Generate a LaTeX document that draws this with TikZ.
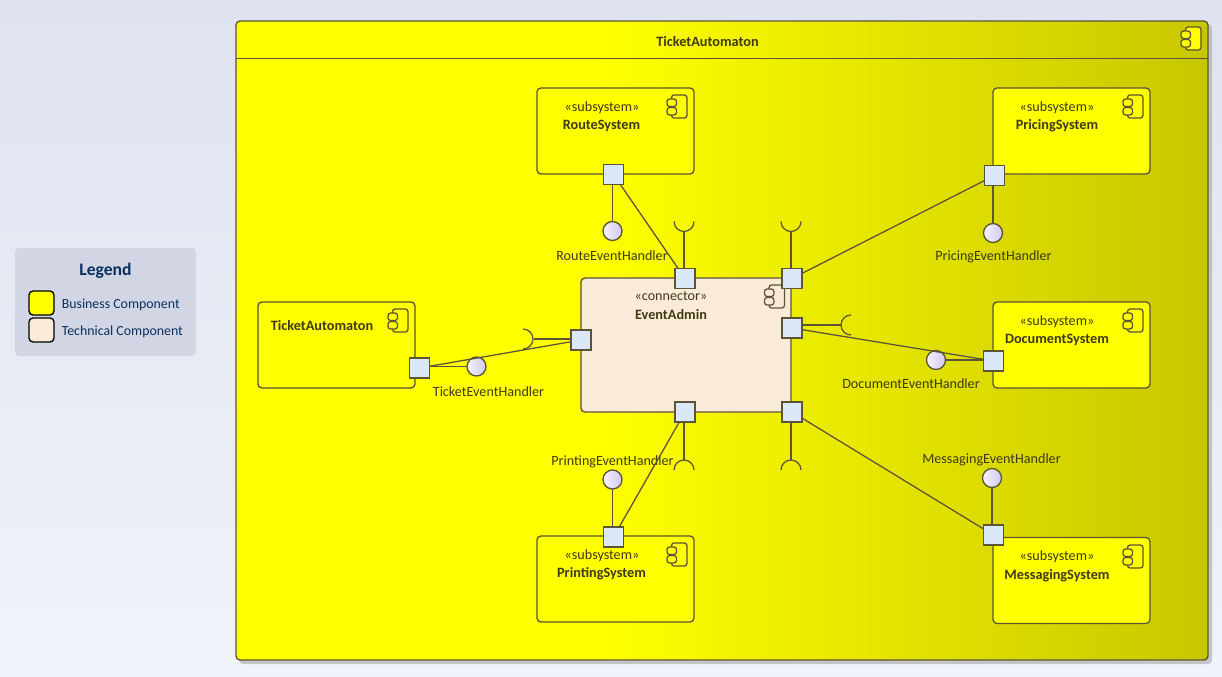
\documentclass[tikz,border=0pt]{standalone}
\usepackage{fontspec}
\setmainfont{Carlito}
\definecolor{ln}{HTML}{5C5436}
\definecolor{txt}{HTML}{3F3A14}
\definecolor{navy}{HTML}{0B2F5F}
\definecolor{portc}{HTML}{DAE8F8}
\definecolor{tech}{HTML}{FAEBD9}
\definecolor{yel}{HTML}{FFFF00}
\definecolor{legbg}{HTML}{D2D6E4}
\pgfdeclarehorizontalshading{framesh}{100bp}{rgb(0bp)=(1,1,0); rgb(43.75bp)=(1,1,0); rgb(75bp)=(0.78,0.78,0); rgb(100bp)=(0.78,0.78,0)}
\pgfdeclarehorizontalshading{ballsh}{100bp}{rgb(0bp)=(0.97,0.95,0.99); rgb(25bp)=(0.97,0.95,0.99); rgb(75bp)=(0.82,0.79,0.93); rgb(100bp)=(0.82,0.79,0.93)}
\pgfdeclareverticalshading{bgsh}{100bp}{rgb(0bp)=(0.945,0.953,0.98); rgb(25bp)=(0.945,0.953,0.98); rgb(75bp)=(0.87,0.89,0.935); rgb(100bp)=(0.87,0.89,0.935)}
\tikzset{
  x=0.75pt,y=-0.75pt,
  comp/.style={draw=ln,line width=1pt,rounded corners=3pt,fill=yel,minimum width=117.75pt,minimum height=64.5pt,inner sep=0pt,outer sep=0pt},
  techbox/.style={draw=ln,line width=1pt,rounded corners=3pt,fill=tech,minimum width=157.5pt,minimum height=100.5pt,inner sep=0pt,outer sep=0pt},
  port/.style={draw=ln,line width=1pt,fill=portc,minimum size=15pt,inner sep=0pt,outer sep=0pt},
  ball/.style={circle,draw=ln,line width=1pt,shading=ballsh,minimum size=14.25pt,inner sep=0pt,outer sep=0pt},
  conn/.style={draw=ln,line width=0.95pt},
  lab/.style={text=txt,font=\fontsize{10.6pt}{12pt}\selectfont,inner sep=0pt},
  nameb/.style={text=txt,font=\fontsize{10.7pt}{12pt}\selectfont\bfseries,inner sep=0pt},
  legt/.style={text=navy,font=\fontsize{10.4pt}{12pt}\selectfont,inner sep=0pt,anchor=west},
  swatch/.style={draw=black,line width=1pt,rounded corners=3pt,minimum width=18.75pt,minimum height=18pt,inner sep=0pt},
}
% icon: (x,y) = top right corner of the owning box, #3 = fill
\newcommand{\compicon}[3]{%
  \begin{scope}[shift={(#1,#2)},draw=ln,line width=0.95pt]
    \draw[fill=#3,rounded corners=2pt] (-22.5,7) rectangle (-7,30);
    \draw[fill=#3,rounded corners=2pt] (-27,11) rectangle (-17.5,18.5);
    \draw[fill=#3,rounded corners=2pt] (-27,19.5) rectangle (-17.5,27);
  \end{scope}}
\begin{document}
\begin{tikzpicture}
\useasboundingbox (0,0) rectangle (1222,676);
\shade[shading=bgsh] (0,0) rectangle (1222,676);

% legend
\fill[legbg,rounded corners=3pt] (15,248) rectangle (196,356);
\node[text=navy,font=\fontsize{13.2pt}{15pt}\selectfont\bfseries,inner sep=0pt] (legtitle) at (105.5,270.5) {Legend};
\node[swatch,fill=yel] (sw1) at (41.5,303) {};
\node[swatch,fill=tech] (sw2) at (41.5,330) {};
\node[legt] (lt1) at (61.5,304.5) {Business Component};
\node[legt] (lt2) at (61.5,331.5) {Technical Component};

% frame
\fill[black!30!white,opacity=.7,rounded corners=3pt] (239,24) rectangle (1212,664);
\shade[shading=framesh,rounded corners=3pt] (236,21) rectangle (1208,660);
\draw[ln,line width=1pt,rounded corners=3pt] (236,21) rectangle (1208,660);
\draw[ln,line width=1pt] (236,58.5) -- (1208,58.5);
\node[nameb] (ftitle) at (707.5,42) {TicketAutomaton};
\compicon{1208}{20}{yel}

% components
\node[comp] (route) at (615.5,131) {};
\node[comp] (pricing) at (1071.5,131) {};
\node[comp] (document) at (1071.5,345) {};
\node[comp] (ticket) at (336.5,345) {};
\node[comp] (printing) at (615.5,579) {};
\node[comp] (messaging) at (1071.5,580.5) {};
\node[techbox] (admin) at (686,345) {};
\compicon{694}{88}{yel}
\compicon{1150}{88}{yel}
\compicon{1150}{302}{yel}
\compicon{415}{302}{yel}
\compicon{694}{536}{yel}
\compicon{1150}{538}{yel}
\compicon{791.5}{278}{tech}

% texts
\node[lab] (r1) at (602,107.5) {«subsystem»};
\node[nameb] (r2) at (601.5,125.5) {RouteSystem};
\node[lab] (pr1) at (1057,107.5) {«subsystem»};
\node[nameb] (pr2) at (1057,125.5) {PricingSystem};
\node[lab] (d1) at (1057,321.5) {«subsystem»};
\node[nameb] (d2) at (1057,339.5) {DocumentSystem};
\node[nameb] (t2) at (322,325.5) {TicketAutomaton};
\node[lab] (pt1) at (602,555.5) {«subsystem»};
\node[nameb] (pt2) at (601.5,573.5) {PrintingSystem};
\node[lab] (m1) at (1057,556.5) {«subsystem»};
\node[nameb] (m2) at (1057,575.5) {MessagingSystem};
\node[lab] (a1) at (671,296.5) {«connector»};
\node[nameb] (a2) at (671,314.5) {EventAdmin};

% ports
\node[port] (proute) at (613.5,174.5) {};
\node[port] (ppricing) at (994.5,175.5) {};
\node[port] (pdoc) at (993.5,361) {};
\node[port] (pticket) at (419.5,368) {};
\node[port] (pprint) at (613.5,537) {};
\node[port] (pmess) at (993.5,535) {};
\node[port] (atop1) at (685,278.5) {};
\node[port] (atop2) at (792,278.5) {};
\node[port] (aleft) at (581,340) {};
\node[port] (aright) at (792,328) {};
\node[port] (abot1) at (685,412) {};
\node[port] (abot2) at (792,412) {};

% balls
\node[ball] (broute) at (612.5,231) {};
\node[ball] (bpricing) at (993,233) {};
\node[ball] (bdoc) at (936,360) {};
\node[ball] (bticket) at (476.5,366.5) {};
\node[ball] (bprint) at (612.5,479.5) {};
\node[ball] (bmess) at (992,478) {};

% labels
\node[lab] (lroute) at (612,255.5) {RouteEventHandler};
\node[lab] (lpricing) at (993.5,256.5) {PricingEventHandler};
\node[lab] (lticket) at (488.5,391.5) {TicketEventHandler};
\node[lab] (ldoc) at (911,383.5) {DocumentEventHandler};
\node[lab] (lprint) at (612.5,461.5) {PrintingEventHandler};
\node[lab] (lmess) at (991.5,459.5) {MessagingEventHandler};

% socket ends
\coordinate (s1) at (684,232);
\coordinate (s2) at (791,232);
\coordinate (s3) at (684,460);
\coordinate (s4) at (791,460);
\coordinate (s5) at (533.5,339);
\coordinate (s6) at (841,325);

% assembly connectors
\draw[conn] (proute) -- (atop1);
\draw[conn] (ppricing) -- (atop2);
\draw[conn] (pdoc) -- (aright);
\draw[conn] (pticket) -- (aleft);
\draw[conn] (pprint) -- (abot1);
\draw[conn] (pmess) -- (abot2);

% provided stems
\draw[conn] (broute) -- (broute |- proute.south);
\draw[conn] (bpricing) -- (bpricing |- ppricing.south);
\draw[conn] (bdoc) -- (bdoc -| pdoc.west);
\draw[conn] (bticket) -- (bticket -| pticket.east);
\draw[conn] (bprint) -- (bprint |- pprint.north);
\draw[conn] (bmess) -- (bmess |- pmess.north);

% required stems and sockets
\draw[conn] (s1) -- (s1 |- atop1.north);
\draw[conn] (s2) -- (s2 |- atop2.north);
\draw[conn] (s3) -- (s3 |- abot1.south);
\draw[conn] (s4) -- (s4 |- abot2.south);
\draw[conn] (s5) -- (s5 -| aleft.west);
\draw[conn] (s6) -- (s6 -| aright.east);
\draw[conn] (674,221.5) arc[start angle=180,end angle=360,radius=7.5pt];
\draw[conn] (781,221.5) arc[start angle=180,end angle=360,radius=7.5pt];
\draw[conn] (674,470) arc[start angle=180,end angle=0,radius=7.5pt];
\draw[conn] (781,470) arc[start angle=180,end angle=0,radius=7.5pt];
\draw[conn] (523,329) arc[start angle=90,end angle=-90,radius=7.5pt];
\draw[conn] (851,315) arc[start angle=90,end angle=270,radius=7.5pt];
\end{tikzpicture}
\end{document}
